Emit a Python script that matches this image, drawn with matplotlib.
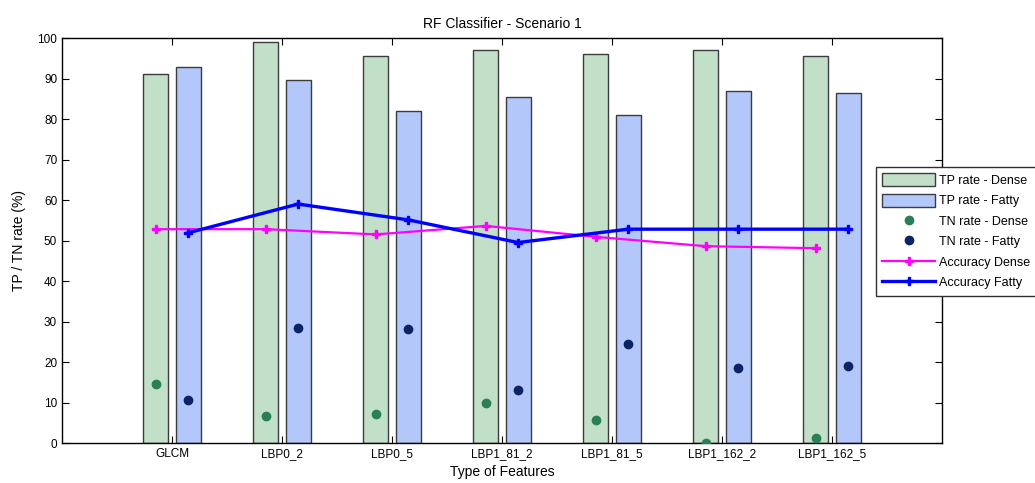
import matplotlib.pyplot as plt
import numpy as np

plt.rcParams['font.family'] = ['Liberation Sans', 'DejaVu Sans']

features = ["GLCM", "LBP0_2", "LBP0_5", "LBP1_81_2", "LBP1_81_5", "LBP1_162_2", "LBP1_162_5"]
tp_dense = [91.2, 99.0, 95.6, 97.0, 96.0, 97.0, 95.6]
tp_fatty = [92.8, 89.6, 82.0, 85.5, 81.1, 87.0, 86.5]
tn_dense = [14.6, 6.6, 7.2, 9.9, 5.8, 0.0, 1.2]
tn_fatty = [10.5, 28.5, 28.1, 13.1, 24.4, 18.4, 19.0]
acc_dense = [52.8, 52.8, 51.5, 53.6, 50.9, 48.6, 48.1]
acc_fatty = [51.9, 59.0, 55.1, 49.5, 52.8, 52.8, 52.8]

x = np.arange(1, len(features) + 1)
off = 0.147
w = 0.228

fig = plt.figure(figsize=(10.35, 4.83), dpi=100)
ax = fig.add_axes([0.0599, 0.0828, 0.8502, 0.8385])

b1 = ax.bar(x - off, tp_dense, w, color="#c2dfc7", edgecolor="#3c3c3c", linewidth=1, label="TP rate - Dense", zorder=2)
b2 = ax.bar(x + off, tp_fatty, w, color="#b3c7fb", edgecolor="#3c3c3c", linewidth=1, label="TP rate - Fatty", zorder=2)
p1, = ax.plot(x - off, tn_dense, "o", color="#2a7f56", markersize=6, label="TN rate - Dense", zorder=4)
p2, = ax.plot(x + off, tn_fatty, "o", color="#0c2466", markersize=6, label="TN rate - Fatty", zorder=4)
l1, = ax.plot(x - off, acc_dense, "-", color="#ff00ff", lw=1.6, marker="P", markersize=6, label="Accuracy Dense", zorder=3)
l2, = ax.plot(x + off, acc_fatty, "-", color="#0000ff", lw=2.4, marker="P", markersize=6, label="Accuracy Fatty", zorder=3)

ax.set_xlim(0, 8)
ax.set_ylim(0, 100)
ax.set_xticks(x)
ax.set_xticklabels(features)
ax.set_yticks(range(0, 101, 10))
ax.tick_params(direction="in", top=True, right=True, labelsize=8.5, length=5)
for s in ax.spines.values():
    s.set_linewidth(1)

ax.set_title("RF Classifier - Scenario 1", fontsize=10, pad=7)
ax.set_xlabel("Type of Features", fontsize=10, labelpad=4)
ax.set_ylabel("TP / TN rate (%)", fontsize=10, labelpad=8)

leg = fig.legend([b1, b2, p1, p2, l1, l2],
                 ["TP rate - Dense", "TP rate - Fatty", "TN rate - Dense", "TN rate - Fatty",
                  "Accuracy Dense", "Accuracy Fatty"],
                 loc="upper left", bbox_to_anchor=(0.8464, 0.6542), fontsize=9,
                 handlelength=4.2, handleheight=1.2, fancybox=False, framealpha=1, edgecolor="#303030",
                 borderpad=0.5, labelspacing=0.55, handletextpad=0.3, borderaxespad=0)
leg.get_frame().set_linewidth(1)

fig.savefig("out.png", dpi=100)
